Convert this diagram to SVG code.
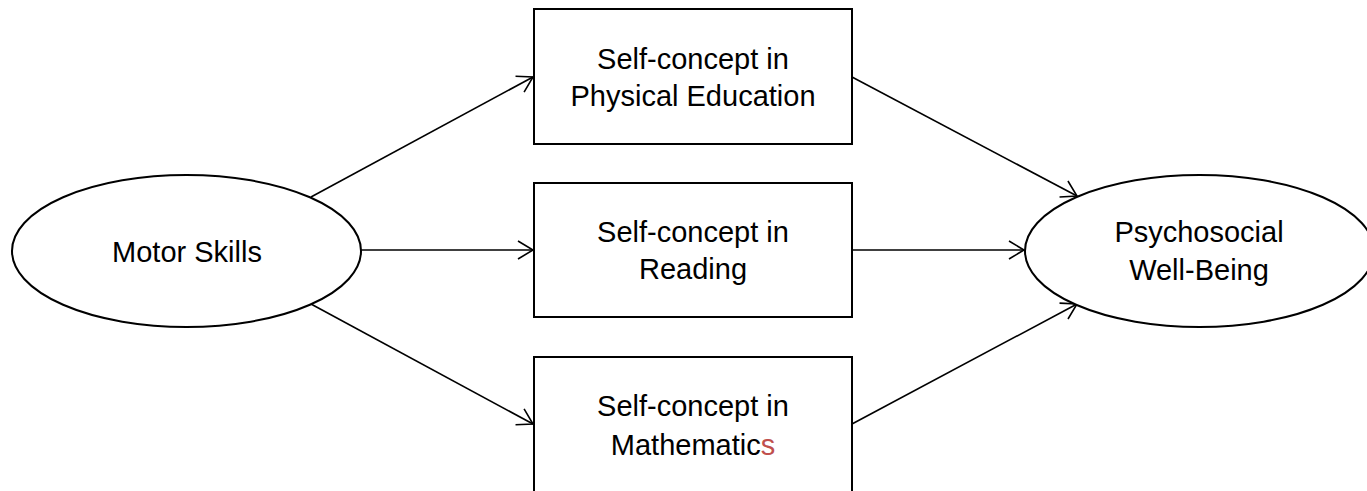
<svg xmlns="http://www.w3.org/2000/svg" width="1367" height="491" viewBox="0 0 1367 491">
<style>
.node{fill:#fff;stroke:#000;stroke-width:2}
.lbl{font-family:"Liberation Sans",Arial,sans-serif;font-size:29px;fill:#000;text-anchor:middle}
.edge{stroke:#000;stroke-width:1.6;fill:none;marker-end:url(#arr)}
</style>
<defs>
<marker id="arr" markerUnits="userSpaceOnUse" markerWidth="20" markerHeight="20" viewBox="0 0 20 20" refX="18" refY="10" orient="auto">
<path d="M3,1 L18,10 L3,19" fill="none" stroke="#000" stroke-width="1.6"/>
</marker>
</defs>
<rect width="1367" height="491" fill="#fff"/>
<g id="connectors">
<line class="edge" x1="311" y1="197" x2="533" y2="77"/>
<line class="edge" x1="361" y1="250" x2="533" y2="250"/>
<line class="edge" x1="311" y1="304" x2="533" y2="424"/>
<line class="edge" x1="852" y1="77" x2="1077" y2="196"/>
<line class="edge" x1="852" y1="250" x2="1024" y2="250"/>
<line class="edge" x1="852" y1="424" x2="1077" y2="304"/>
</g>
<g id="motor">
<ellipse class="node" cx="186.5" cy="251" rx="174.5" ry="76"/>
<text class="lbl" x="187" y="262">Motor Skills</text>
</g>
<g id="sc-pe">
<rect class="node" x="534" y="9" width="318" height="135"/>
<text class="lbl" x="693" y="69">Self-concept in</text>
<text class="lbl" x="693" y="106">Physical Education</text>
</g>
<g id="sc-reading">
<rect class="node" x="534" y="183" width="318" height="134"/>
<text class="lbl" x="693" y="242">Self-concept in</text>
<text class="lbl" x="693" y="279">Reading</text>
</g>
<g id="sc-math">
<rect class="node" x="534" y="357" width="318" height="150"/>
<text class="lbl" x="693" y="416">Self-concept in</text>
<text class="lbl" x="693" y="455">Mathematic<tspan fill="#C0504D">s</tspan></text>
</g>
<g id="wellbeing">
<ellipse class="node" cx="1199.5" cy="251" rx="174.5" ry="76"/>
<text class="lbl" x="1199" y="242">Psychosocial</text>
<text class="lbl" x="1199" y="280">Well-Being</text>
</g>
</svg>
